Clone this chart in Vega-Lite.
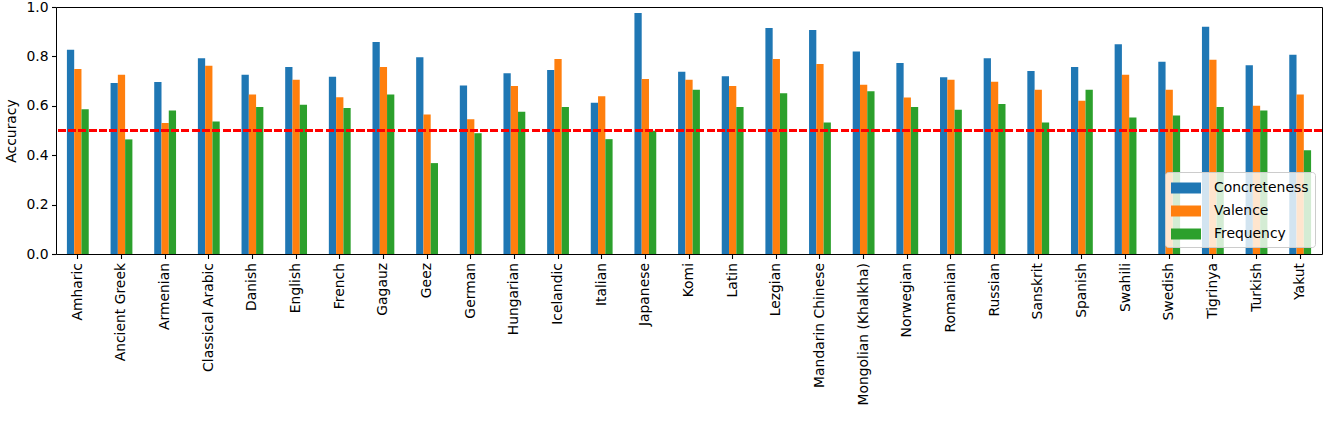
{
  "$schema": "https://vega.github.io/schema/vega-lite/v6.json",
  "width": 1266,
  "height": 247,
  "autosize": {"type": "none"},
  "padding": {"left": 56, "top": 7, "right": 3, "bottom": 167},
  "background": "white",
  "config": {
    "font": "DejaVu Sans",
    "view": {"stroke": "black", "strokeWidth": 1},
    "axis": {
      "labelFont": "DejaVu Sans", "labelFontSize": 13.9, "labelColor": "black",
      "titleFont": "DejaVu Sans", "titleFontSize": 13.9, "titleFontWeight": "normal", "titleColor": "black",
      "tickColor": "black", "tickSize": 4.5, "tickWidth": 1.1, "domain": false, "grid": false
    },
    "legend": {
      "labelFont": "DejaVu Sans", "labelFontSize": 13.9, "labelColor": "black"
    }
  },
  "data": {
    "values": [
      {"language": "Amharic", "metric": "Concreteness", "value": 0.827},
      {"language": "Amharic", "metric": "Valence", "value": 0.749},
      {"language": "Amharic", "metric": "Frequency", "value": 0.586},
      {"language": "Ancient Greek", "metric": "Concreteness", "value": 0.692},
      {"language": "Ancient Greek", "metric": "Valence", "value": 0.726},
      {"language": "Ancient Greek", "metric": "Frequency", "value": 0.464},
      {"language": "Armenian", "metric": "Concreteness", "value": 0.696},
      {"language": "Armenian", "metric": "Valence", "value": 0.530},
      {"language": "Armenian", "metric": "Frequency", "value": 0.581},
      {"language": "Classical Arabic", "metric": "Concreteness", "value": 0.793},
      {"language": "Classical Arabic", "metric": "Valence", "value": 0.762},
      {"language": "Classical Arabic", "metric": "Frequency", "value": 0.536},
      {"language": "Danish", "metric": "Concreteness", "value": 0.726},
      {"language": "Danish", "metric": "Valence", "value": 0.646},
      {"language": "Danish", "metric": "Frequency", "value": 0.595},
      {"language": "English", "metric": "Concreteness", "value": 0.757},
      {"language": "English", "metric": "Valence", "value": 0.705},
      {"language": "English", "metric": "Frequency", "value": 0.604},
      {"language": "French", "metric": "Concreteness", "value": 0.718},
      {"language": "French", "metric": "Valence", "value": 0.635},
      {"language": "French", "metric": "Frequency", "value": 0.591},
      {"language": "Gagauz", "metric": "Concreteness", "value": 0.858},
      {"language": "Gagauz", "metric": "Valence", "value": 0.757},
      {"language": "Gagauz", "metric": "Frequency", "value": 0.646},
      {"language": "Geez", "metric": "Concreteness", "value": 0.797},
      {"language": "Geez", "metric": "Valence", "value": 0.565},
      {"language": "Geez", "metric": "Frequency", "value": 0.368},
      {"language": "German", "metric": "Concreteness", "value": 0.682},
      {"language": "German", "metric": "Valence", "value": 0.546},
      {"language": "German", "metric": "Frequency", "value": 0.489},
      {"language": "Hungarian", "metric": "Concreteness", "value": 0.732},
      {"language": "Hungarian", "metric": "Valence", "value": 0.680},
      {"language": "Hungarian", "metric": "Frequency", "value": 0.576},
      {"language": "Icelandic", "metric": "Concreteness", "value": 0.745},
      {"language": "Icelandic", "metric": "Valence", "value": 0.789},
      {"language": "Icelandic", "metric": "Frequency", "value": 0.595},
      {"language": "Italian", "metric": "Concreteness", "value": 0.612},
      {"language": "Italian", "metric": "Valence", "value": 0.639},
      {"language": "Italian", "metric": "Frequency", "value": 0.465},
      {"language": "Japanese", "metric": "Concreteness", "value": 0.976},
      {"language": "Japanese", "metric": "Valence", "value": 0.708},
      {"language": "Japanese", "metric": "Frequency", "value": 0.499},
      {"language": "Komi", "metric": "Concreteness", "value": 0.738},
      {"language": "Komi", "metric": "Valence", "value": 0.705},
      {"language": "Komi", "metric": "Frequency", "value": 0.665},
      {"language": "Latin", "metric": "Concreteness", "value": 0.720},
      {"language": "Latin", "metric": "Valence", "value": 0.680},
      {"language": "Latin", "metric": "Frequency", "value": 0.595},
      {"language": "Lezgian", "metric": "Concreteness", "value": 0.915},
      {"language": "Lezgian", "metric": "Valence", "value": 0.789},
      {"language": "Lezgian", "metric": "Frequency", "value": 0.651},
      {"language": "Mandarin Chinese", "metric": "Concreteness", "value": 0.907},
      {"language": "Mandarin Chinese", "metric": "Valence", "value": 0.769},
      {"language": "Mandarin Chinese", "metric": "Frequency", "value": 0.532},
      {"language": "Mongolian (Khalkha)", "metric": "Concreteness", "value": 0.820},
      {"language": "Mongolian (Khalkha)", "metric": "Valence", "value": 0.685},
      {"language": "Mongolian (Khalkha)", "metric": "Frequency", "value": 0.659},
      {"language": "Norwegian", "metric": "Concreteness", "value": 0.773},
      {"language": "Norwegian", "metric": "Valence", "value": 0.634},
      {"language": "Norwegian", "metric": "Frequency", "value": 0.595},
      {"language": "Romanian", "metric": "Concreteness", "value": 0.716},
      {"language": "Romanian", "metric": "Valence", "value": 0.705},
      {"language": "Romanian", "metric": "Frequency", "value": 0.584},
      {"language": "Russian", "metric": "Concreteness", "value": 0.793},
      {"language": "Russian", "metric": "Valence", "value": 0.697},
      {"language": "Russian", "metric": "Frequency", "value": 0.607},
      {"language": "Sanskrit", "metric": "Concreteness", "value": 0.741},
      {"language": "Sanskrit", "metric": "Valence", "value": 0.665},
      {"language": "Sanskrit", "metric": "Frequency", "value": 0.532},
      {"language": "Spanish", "metric": "Concreteness", "value": 0.757},
      {"language": "Spanish", "metric": "Valence", "value": 0.620},
      {"language": "Spanish", "metric": "Frequency", "value": 0.665},
      {"language": "Swahili", "metric": "Concreteness", "value": 0.849},
      {"language": "Swahili", "metric": "Valence", "value": 0.726},
      {"language": "Swahili", "metric": "Frequency", "value": 0.553},
      {"language": "Swedish", "metric": "Concreteness", "value": 0.778},
      {"language": "Swedish", "metric": "Valence", "value": 0.665},
      {"language": "Swedish", "metric": "Frequency", "value": 0.561},
      {"language": "Tigrinya", "metric": "Concreteness", "value": 0.920},
      {"language": "Tigrinya", "metric": "Valence", "value": 0.786},
      {"language": "Tigrinya", "metric": "Frequency", "value": 0.595},
      {"language": "Turkish", "metric": "Concreteness", "value": 0.764},
      {"language": "Turkish", "metric": "Valence", "value": 0.600},
      {"language": "Turkish", "metric": "Frequency", "value": 0.581},
      {"language": "Yakut", "metric": "Concreteness", "value": 0.807},
      {"language": "Yakut", "metric": "Valence", "value": 0.646},
      {"language": "Yakut", "metric": "Frequency", "value": 0.420}
    ]
  },
  "layer": [
    {
      "mark": {"type": "bar"},
      "encoding": {
        "x": {
          "field": "language",
          "type": "nominal",
          "sort": null,
          "title": null,
          "scale": {"paddingInner": 0.5, "paddingOuter": 0.25},
          "axis": {"labelAngle": -90, "labelPadding": 4, "labelLimit": 300}
        },
        "xOffset": {
          "field": "metric",
          "type": "nominal",
          "sort": ["Concreteness", "Valence", "Frequency"]
        },
        "y": {
          "field": "value",
          "type": "quantitative",
          "title": "Accuracy",
          "scale": {"domain": [0, 1], "nice": false},
          "axis": {"values": [0, 0.2, 0.4, 0.6, 0.8, 1.0], "format": ".1f", "labelPadding": 3.5, "titlePadding": 7}
        },
        "color": {
          "field": "metric",
          "type": "nominal",
          "sort": ["Concreteness", "Valence", "Frequency"],
          "scale": {"range": ["#1f77b4", "#ff7f0e", "#2ca02c"]},
          "legend": {
            "title": null,
            "orient": "bottom-right",
            "offset": 7,
            "padding": 6,
            "fillColor": "rgba(255,255,255,0.8)",
            "strokeColor": "#cccccc",
            "cornerRadius": 3,
            "symbolType": "M-1,-0.55H2V0.55H-1Z",
            "symbolSize": 400,
            "symbolOpacity": 1,
            "symbolStrokeWidth": 0,
            "labelOffset": 23,
            "rowPadding": 6
          }
        }
      }
    },
    {
      "mark": {"type": "rule", "color": "red", "strokeDash": [7.2, 3.1], "strokeWidth": 2},
      "encoding": {"y": {"datum": 0.5}}
    }
  ]
}
